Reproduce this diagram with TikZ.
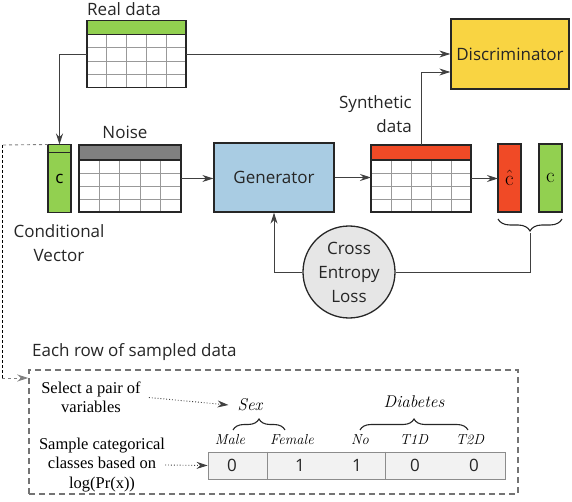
\documentclass[tikz,border=0pt]{standalone}
\usepackage{fontspec}
\setsansfont{Open Sans}
\newfontfamily\timesfont{Liberation Serif}
\usepackage{tikz}
\usetikzlibrary{arrows.meta,positioning,calc,decorations.pathreplacing}
\definecolor{cgreen}{RGB}{146,208,80}
\definecolor{cred}{RGB}{240,74,38}
\definecolor{cyellow}{RGB}{249,212,66}
\definecolor{cblue}{RGB}{169,204,227}
\definecolor{cgray}{RGB}{128,128,128}
\definecolor{lossgray}{RGB}{230,230,230}
\definecolor{rowgray}{RGB}{242,242,242}

% header, grid and frame of a small data table
\newcommand{\tablegrid}[3]{%
  \fill[#2] (#1.north west) rectangle ([yshift=-#3]#1.north east);
  \foreach \r in {1,2,3}
    \draw[gridline] ($([yshift=-#3]#1.north west)!\r/4!(#1.south west)$) -- ($([yshift=-#3]#1.north east)!\r/4!(#1.south east)$);
  \foreach \c in {1,...,4}
    \draw[gridline] ($(#1.north west)!\c/5!(#1.north east)$) ++(0pt,-#3) -- ($(#1.south west)!\c/5!(#1.south east)$);
  \draw[tblline] (#1.north west) rectangle (#1.south east);
  \draw[tblline] ([yshift=-#3]#1.north west) -- ([yshift=-#3]#1.north east);
}

\begin{document}
\begin{tikzpicture}[x=1pt,y=-1pt,
    tbl/.style={minimum width=#1,minimum height=67pt,inner sep=0pt,outer sep=0pt},
    gridline/.style={draw=black!40,line width=0.8pt},
    tblline/.style={draw=black!85,line width=1.3pt},
    blk/.style={draw=black!85,line width=1.3pt,align=center,text=black!85,
                font=\sffamily\fontsize{17}{24}\selectfont},
    vec/.style={draw=black!85,line width=1.3pt,fill=#1,minimum width=23pt,
                minimum height=68pt,inner sep=0pt,outer sep=0pt},
    lbl/.style={font=\sffamily\fontsize{17}{24}\selectfont,text=black!85,align=center,inner sep=0pt},
    serif/.style={font=\timesfont\fontsize{16.5}{19.5}\selectfont,align=center,inner sep=0pt},
    cat/.style={font=\itshape\fontsize{17}{19}\selectfont,inner sep=0pt},
    cls/.style={font=\itshape\fontsize{14.5}{15}\selectfont,inner sep=0pt},
    arr/.style={draw=black!75,line width=0.9pt,-{Stealth[length=11pt,width=7pt]}},
    dotarr/.style={arr,dotted},
    brc/.style={decorate,decoration={brace,amplitude=#1},draw=black!85,line width=1.1pt}]
  \useasboundingbox (0,0) rectangle (572,502);

  % tables
  \node[tbl=99pt] (real) at (136.5,54) {};
  \tablegrid{real}{cgreen}{14pt}
  \node[lbl] (reallbl) at (124,9) {Real data};
  \node[tbl=102pt] (noise) at (130,178.5) {};
  \tablegrid{noise}{cgray}{15pt}
  \node[lbl] (noiselbl) at (125,132) {Noise};
  \node[tbl=100pt] (syn) at (421,178.5) {};
  \tablegrid{syn}{cred}{15pt}
  \node[lbl,align=right,anchor=east] (synlbl) at (412,114.5) {Synthetic\\data};

  % vectors
  \node[vec=cgreen,font=\sffamily\fontsize{17}{24}\selectfont] (cvec) at (59.5,178.5) {c};
  \draw[tblline] ([yshift=-8pt]cvec.north west) -- ([yshift=-8pt]cvec.north east);
  \node[lbl] (cveclbl) at (59,243) {Conditional\\Vector};
  \node[vec=cred,font=\fontsize{21}{24}\selectfont] (chat) at (509.5,178) {$\hat{\mathrm{c}}$};
  \node[vec=cgreen,font=\fontsize{21}{24}\selectfont,right=18pt of chat] (cvec2) {$\mathrm{c}$};

  % networks
  \node[blk,fill=cblue,minimum width=120pt,minimum height=69pt] (gen) at (274,177.5) {Generator};
  \node[blk,fill=cyellow,minimum width=118pt,minimum height=70pt] (disc) at (510,54) {Discriminator};
  \node[blk,circle,fill=lossgray,minimum size=92pt,inner sep=0pt] (loss) at (349,272) {Cross\\Entropy\\Loss};

  \draw[arr] (real.west) -| (cvec.north);
  \draw[arr] (real.east) -- (disc.west);
  \draw[arr] (syn.north) |- ([yshift=-18pt]disc.west);
  \draw[arr] (noise.east) -- (noise.east -| gen.west);
  \draw[arr] (gen.east) -- (gen.east -| syn.west);
  \draw[arr] (syn.east) -- (syn.east -| chat.west);
  \draw[brc=12pt] ([yshift=-7pt]cvec2.south east) -- ([yshift=-7pt]chat.south west);
  \coordinate (tip) at (530,233);
  \draw[draw=black!75,line width=0.9pt] (tip) |- (loss.east);
  \draw[arr] (loss.west) -| (gen.south);

  % sampling of one row
  \node[draw=black!55,dash pattern=on 6pt off 4pt,line width=1.5pt,minimum width=489pt,
        minimum height=124pt,inner sep=0pt] (rowbox) at (273.5,432) {};
  \node[lbl,anchor=west] (rowlbl) at (32,352) {Each row of sampled data};
  \coordinate (dl) at (2,145);
  \coordinate (db) at (2,378);
  \draw[draw=black!50,dashed,line width=0.9pt] (cvec.north west) -- (dl);
  \draw[densely dashed,line width=0.9pt] (dl) -- (db);
  \draw[arr,draw=black!50,dashed] (db) -- (rowbox.west |- db);

  \node[serif] (pick) at (91,397.5) {Select a pair of\\variables};
  \node[serif] (samp) at (102,465) {Sample categorical\\classes based on\\log(Pr(x))};
  \node[cat] (sex) at (250,405) {Sex};
  \node[cat] (diab) at (414,402) {Diabetes};
  \draw[dotarr] ([xshift=8pt]pick.east) -- ([xshift=-9pt]sex.west);
  \node[draw=black!45,fill=rowgray,line width=0.8pt,minimum width=297pt,minimum height=27pt,
        inner sep=0pt] (row) at (356.5,465.5) {};
  \draw[dotarr] (samp.east) -- (row.west);
  \foreach \x in {267,385}
    \draw[draw=black!45,line width=0.8pt] (\x,0 |- row.north) -- (\x,0 |- row.south);
  \foreach \x/\v [count=\i] in {232/0,300/1,357/1,415/0,474/0}
    \node[lbl] (val\i) at (\x,465.5) {\v};
  \foreach \x/\t in {230/Male,292/Female,360/No,414/T1D,470/T2D}
    \node[cls] (cl-\t) at (\x,440) {\t};
  \draw[brc=11pt] (233,430) -- (285,430);
  \draw[brc=11pt] (360,430) -- (468,430);
\end{tikzpicture}
\end{document}
